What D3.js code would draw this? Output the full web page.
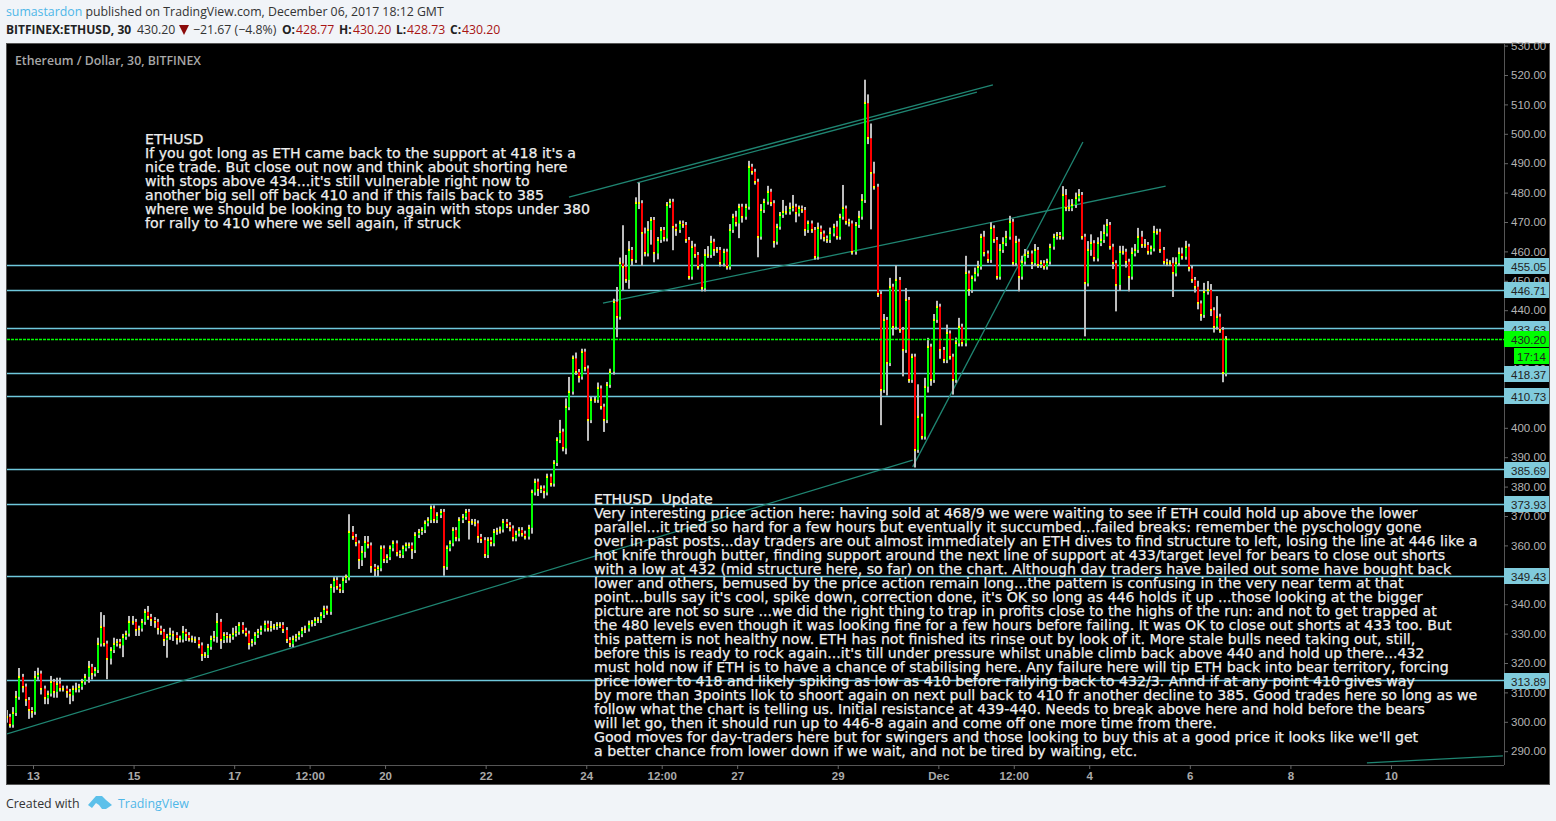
<!DOCTYPE html>
<html><head><meta charset="utf-8">
<script src="https://cdn.jsdelivr.net/npm/d3@7/dist/d3.min.js"></script>
<style>html,body{margin:0;padding:0;background:#f1f4f8;overflow:hidden}svg{display:block}</style>
</head><body><div id="c"></div>
<script>
const firstBarTime = Date.UTC(2017,10,12,11,30);
const barStepMinutes = 90;
const firstOpen = 302;
const closes = [
301.7,299,303,308.5,315.3,312,307.4,304,303.4,315.3,316.4,311.3,308,309.6,313.6,310.2,313,311.3,311.3,310.2,
309,311.3,311,311.9,313.6,315.3,318.7,316.4,317.6,326.6,332.3,326.6,321.5,324.4,326.6,327.2,326,328.9,330,334,
334,331.2,331.7,334,337.4,335.7,334.6,334,331.7,330.6,327.8,328.9,330,329.5,328.3,328,330.6,329.5,328.3,328,
327.8,326,322.7,322.7,325.5,328.3,328.9,334,327.8,329.5,328.9,328.9,330,330.6,332.9,331,330,326.6,327.2,329.5,
330.6,331.7,333.4,331.7,332.3,332.3,332.9,332.9,331.2,327.8,326.4,328.3,328.9,329.8,331.2,331.7,333.4,333.6,334.6,334.6,
336.3,338.5,337.4,345.9,348.2,345.9,344.8,348.2,349.1,364.6,362.9,360.7,355,357.8,361.2,360,352.7,351.6,352.2,359,
355,356,359,360.7,357.3,356.7,359,360,360,358.4,363.5,364.6,365.2,367.5,368.6,372.6,368.6,370.3,371.4,352.7,
359,360.7,365.2,362.4,368.6,369.7,371.4,368,368,367.5,362.9,361.8,356.7,361.8,360.7,364.6,365,365.4,368,366.9,
365.8,362.4,364,365.2,364,363,366,378,381.7,378.8,379.4,378,383.4,381,388,395.8,398.7,393,407,412.3,
423.6,419,417.4,425.9,420.2,402.6,409.5,409.5,413.4,407.2,402.6,414.6,419.1,442.9,437.8,455.9,454.8,450.3,460.5,457.1,
476.4,476.4,466.1,459.3,467.3,470.7,459.3,463.9,467.3,464.4,475.8,476.9,468.4,467.3,469.5,469,463.9,451.4,461.6,458.8,
454.8,447.4,458.8,458.8,463.3,460.5,460.5,455.9,459.9,454.8,467.3,471.8,469.5,475.2,471.8,475.2,488.8,487.1,483.7,465,
474.1,476.9,480.3,476.4,463.3,468.4,472.4,473.5,473.5,474.6,475.2,472.9,474.6,474.1,467.3,469.5,467.3,458.2,467.8,466.1,
464.4,463.9,466.1,468.4,465,471.8,474.6,470.1,469.5,459.9,469,471.8,477.5,510.4,498.5,486.5,482,445.5,412.9,436.7,
422,448,434.4,450.3,433.3,426.5,443.5,416.3,424.2,392.5,403.8,397,414,427.6,416.3,436.7,441.2,426.5,423,432.1,
424.2,416.3,428.7,434.4,428.7,452.5,446.9,450.8,452.5,454.8,465,459.3,457.1,467.9,463.9,451.4,460.5,462.8,465,470.1,
456,463.3,451.4,456.5,458.8,459.3,456,460.5,455.4,456,454.8,456.5,461.6,465,465.6,465,479.2,474.7,474.7,475.8,
478,479.2,465,449.1,460.5,462.8,457.6,462.8,463.9,466.1,469,461.6,456,448.6,459.9,459.9,456.5,451.4,459.3,460.5,
465,462.2,462.2,459.9,461,466.7,466.7,460.5,456.5,456,456,452.5,456,459.3,458.2,461.6,454.2,450.3,448,442.3,
438.4,446.3,446.9,440,434.4,437.8,433.3,418.5,430.2];
const upperWicks = [
2,1,2,2,3,1,1,1,1,2,2,1,1,1,2,1,2,2,1,1,
1,1,2,1,1,1,2,1,1,2,5,4,1,1,2,1,1,1,1,2,
2,1,1,1,1,2,1,1,1,1,1,1,2,1,1,1,2,1,1,1,
1,1,1,1,1,1,2,3,1,1,1,1,2,2,1,1,1,1,1,1,
1,1,1,1,2,1,1,1,1,1,1,1,1,1,1,1,1,1,1,1,
1,1,1,1,1,1,1,1,1,6,2,1,1,2,2,2,1,1,1,1,
1,1,1,1,1,1,1,1,1,1,1,1,1,1,1,1,1,1,1,1,
1,1,1,1,1,1,1,1,1,1,1,1,1,1,1,1,1,1,1,1,
1,1,1,1,1,1,1,1,1,1,1,1,1,1,1,1,4,1,3,5,
1,2,1,1,1,1,1,1,2,1,1,1,1,1,5,2,13,4,3,1,
2,7,1,2,3,1,1,1,1,1,1,1,1,1,1,1,1,1,2,1,
1,1,2,3,2,1,1,1,1,1,2,1,2,1,1,1,2,1,1,1,
2,1,2,1,1,1,1,4,2,2,4,1,1,1,1,1,1,1,2,1,
1,1,2,1,2,1,8,1,1,1,1,2,2,8,3,5,4,1,1,2,
1,3,1,5,1,1,4,1,1,1,11,1,3,3,1,2,2,1,1,3,
1,1,2,3,1,6,1,1,2,2,1,2,1,2,1,1,2,2,2,2,
1,2,1,2,2,1,1,2,1,1,1,1,1,1,1,1,3,2,3,2,
2,2,1,1,3,3,1,2,3,3,2,1,1,1,2,2,1,1,2,2,
3,2,2,1,1,2,1,1,1,1,1,2,2,2,2,2,1,1,1,2,
1,3,3,2,1,7,1,1,1];
const lowerWicks = [
2,1,1,1,1,2,2,3,2,1,1,2,2,2,1,2,2,1,1,2,
3,2,1,1,1,1,2,2,1,1,1,1,7,2,1,1,1,4,1,1,
1,2,2,1,1,1,2,2,2,1,2,6,1,2,2,1,1,2,1,1,
1,1,2,1,1,1,1,2,3,1,2,2,1,1,1,1,1,2,1,1,
1,1,1,1,1,1,1,1,1,1,1,1,1,1,1,1,1,1,1,1,
1,1,1,1,2,1,1,1,1,1,1,1,3,2,2,1,2,2,2,1,
1,1,1,1,1,1,1,1,1,3,1,1,1,1,1,1,1,1,1,3,
1,1,1,1,1,1,1,6,1,1,2,1,1,1,1,1,1,1,1,1,
1,1,1,1,1,1,1,2,1,2,1,2,1,1,1,1,1,1,2,1,
1,1,2,1,1,7,1,1,1,1,4,1,1,1,7,1,8,1,3,2,
1,2,11,1,1,5,3,2,1,1,1,1,8,2,1,1,1,1,1,1,
1,1,1,1,1,2,1,1,1,1,1,1,1,5,2,1,1,1,1,7,
1,1,1,1,2,1,1,1,1,1,1,3,1,1,2,1,1,1,1,2,
1,1,1,1,1,1,1,1,1,1,1,1,1,1,2,19,1,1,12,1,
11,1,3,1,1,9,1,1,1,6,1,1,1,2,2,1,1,3,1,1,
1,5,1,1,1,1,2,1,1,1,1,1,1,1,1,1,1,1,1,1,
1,1,5,1,1,1,2,1,1,1,1,1,1,1,1,1,1,1,1,1,
1,1,1,18,1,2,1,1,1,1,1,1,2,9,2,1,2,5,1,1,
1,1,1,1,1,1,1,1,1,1,1,8,1,1,1,1,1,1,2,2,
2,1,1,2,2,1,1,3,1];
const priceTicks = [530,520,510,500,490,480,470,460,450,440,430,420,410,400,390,380,370,360,350,340,330,320,310,300,290];
const levels = [455.05,446.71,433.63,418.37,410.73,385.69,373.93,349.43,313.89];
const lastPrice = 430.20;
const countdown = "17:14";
const timeTicks = [
 [Date.UTC(2017,10,13),"13"],[Date.UTC(2017,10,15),"15"],[Date.UTC(2017,10,17),"17"],[Date.UTC(2017,10,18,12),"12:00"],
 [Date.UTC(2017,10,20),"20"],[Date.UTC(2017,10,22),"22"],[Date.UTC(2017,10,24),"24"],[Date.UTC(2017,10,25,12),"12:00"],
 [Date.UTC(2017,10,27),"27"],[Date.UTC(2017,10,29),"29"],[Date.UTC(2017,11,1),"Dec"],[Date.UTC(2017,11,2,12),"12:00"],
 [Date.UTC(2017,11,4),"4"],[Date.UTC(2017,11,6),"6"],[Date.UTC(2017,11,8),"8"],[Date.UTC(2017,11,10),"10"]];
// trend lines: [days after 13 Nov, price, days after 13 Nov, price]
const trendLines = [
 [-0.517,295.9,17.49,389.0],[10.656,478.5,19.085,516.6],[12.008,483.3,18.767,514.2],
 [11.332,442.4,22.519,482.2],[17.49,386.7,20.875,497.2],[26.521,286,29.225,288.4]];
const noteOne = ["ETHUSD",
"If you got long as ETH came back to the support at 418 it's a",
"nice trade. But close out now and think about shorting here",
"with stops above 434...it's still vulnerable right now to",
"another big sell off back 410 and if this fails back to 385",
"where we should be looking to buy again with stops under 380",
"for rally to 410 where we sell again, if struck"];
const noteTwo = ["ETHUSD  Update",
"Very interesting price action here: having sold at 468/9 we were waiting to see if ETH could hold up above the lower",
"parallel...it tried so hard for a few hours but eventually it succumbed...failed breaks: remember the pyschology gone",
"over in past posts...day traders are out almost immediately an ETH dives to find structure to left, losing the line at 446 like a",
"hot knife through butter, finding support around the next line of support at 433/target level for bears to close out shorts",
"with a low at 432 (mid structure here, so far) on the chart. Although day traders have bailed out some have bought back",
"lower and others, bemused by the price action remain long...the pattern is confusing in the very near term at that",
"point...bulls say it's cool, spike down, correction done, it's OK so long as 446 holds it up ...those looking at the bigger",
"picture are not so sure ...we did the right thing to trap in profits close to the highs of the run: and not to get trapped at",
"the 480 levels even though it was looking fine for a few hours before failing. It was OK to close out shorts at 433 too. But",
"this pattern is not healthy now. ETH has not finished its rinse out by look of it. More stale bulls need taking out, still,",
"before this is ready to rock again...it's till under pressure whilst unable climb back above 440 and hold up there...432",
"must hold now if ETH is to have a chance of stabilising here. Any failure here will tip ETH back into bear territory, forcing",
"price lower to 418 and likely spiking as low as 410 before rallying back to 432/3. Annd if at any point 410 gives way",
"by more than 3points llok to shoort again on next pull back to 410 fr another decline to 385. Good trades here so long as we",
"follow what the chart is telling us. Initial resistance at 439-440. Needs to break above here and hold before the bears",
"will let go, then it should run up to 446-8 again and come off one more time from there.",
"Good moves for day-traders here but for swingers and those looking to buy this at a good price it looks like we'll get",
"a better chance from lower down if we wait, and not be tired by waiting, etc."];

const W=1556,H=821;
const svg=d3.select("#c").append("svg").attr("width",W).attr("height",H);
const sans="'Open Sans','Noto Sans',sans-serif", arial="'Liberation Sans',Arial,sans-serif", note="'DejaVu Sans',Verdana,sans-serif";
svg.append("rect").attr("width",W).attr("height",H).attr("fill","#f1f4f8");
svg.append("rect").attr("x",6.5).attr("y",43.5).attr("width",1543).attr("height",741).attr("fill","#000").attr("stroke","#555");

const x=d3.scaleUtc().domain([Date.UTC(2017,10,13),Date.UTC(2017,11,10)]).range([33,1391]);
const y=d3.scaleLinear().domain([520,290]).range([75,751.2]);
const day=86400000, xDay=d=>x(Date.UTC(2017,10,13)+d*day);

// axes
const gy=svg.append("g").attr("transform","translate(1504,0)").call(d3.axisRight(y).tickValues(priceTicks).tickFormat(d3.format(".2f")).tickSize(4).tickPadding(3));
const gx=svg.append("g").attr("transform","translate(0,765)").call(d3.axisBottom(x).tickValues(timeTicks.map(d=>d[0])).tickFormat((d,i)=>timeTicks[i][1]).tickSize(4).tickPadding(3));
gy.select(".domain").attr("d","M0.5,44V765").attr("stroke","#555");
gx.select(".domain").attr("d","M7,0.5H1504").attr("stroke","#555");
[gy,gx].forEach(g=>{g.selectAll(".tick line").attr("stroke","#666");
 g.selectAll("text").attr("fill","#b4b4b4").attr("font-family",arial).attr("font-size",11.5).attr("font-weight",400);});
gx.selectAll("text").attr("font-weight",700).attr("font-size",11.5).attr("fill","#aaa");
const clip=svg.append("clipPath").attr("id","pane");clip.append("rect").attr("x",7).attr("y",44).attr("width",1497).attr("height",721);

const pane=svg.append("g").attr("clip-path","url(#pane)");
// levels
const ly0=v=>Math.floor(y(v))+.5;
pane.selectAll("line.lv").data(levels).join("line").attr("class","lv").attr("x1",7).attr("x2",1504)
 .attr("y1",ly0).attr("y2",ly0).attr("stroke","#6fc8dc").attr("stroke-width",1.3);
// trend lines
pane.selectAll("line.tr").data(trendLines).join("line").attr("class","tr")
 .attr("x1",d=>xDay(d[0])).attr("y1",d=>y(d[1])).attr("x2",d=>xDay(d[2])).attr("y2",d=>y(d[3]))
 .attr("stroke","#1f8572").attr("stroke-width",1.3);
// bars
const bars=closes.map((c,i)=>{const o=i?closes[i-1]:firstOpen;return{t:firstBarTime+i*barStepMinutes*60000,o,c,
 h:Math.max(o,c)+upperWicks[i],l:Math.min(o,c)-lowerWicks[i]};});
const snap=t=>Math.round(x(t));
const gb=pane.append("g");
gb.selectAll("rect.w").data(bars).join("rect").attr("class","w").attr("x",d=>snap(d.t)-1).attr("width",2)
 .attr("y",d=>y(d.h)).attr("height",d=>y(d.l)-y(d.h)).attr("fill","#bdbdbd");
gb.selectAll("rect.b").data(bars).join("rect").attr("class","b").attr("x",d=>snap(d.t)-1).attr("width",2)
 .attr("y",d=>y(Math.max(d.o,d.c))).attr("height",d=>Math.max(1,Math.abs(y(d.o)-y(d.c)))).attr("fill",d=>d.c>=d.o?"#00ff00":"#ff0000");
gb.selectAll("rect.y").data(bars).join("rect").attr("class","y").attr("x",d=>snap(d.t)-1).attr("width",2).attr("height",2)
 .attr("y",d=>Math.round(y(d.c))-1).attr("fill","#ffff00");
// last price
const ly=Math.floor(y(lastPrice))+.5;
pane.append("line").attr("x1",7).attr("x2",1504).attr("y1",ly).attr("y2",ly).attr("stroke","#00ff00").attr("stroke-width",1.6).attr("stroke-dasharray","3,1");

// price labels
const labels=svg.append("g");
function tag(v,fill,txt,x0=1504,w=45){const c=y(v);
 labels.append("rect").attr("x",x0).attr("y",Math.round(c)-8).attr("width",w).attr("height",16).attr("fill",fill);
 labels.append("text").attr("x",1511).attr("y",Math.round(c)+4.5).attr("font-family",arial).attr("font-size",11.5).attr("fill","#222").text(txt);}
levels.forEach(v=>tag(v,"#80cbdc",d3.format(".2f")(v)));
tag(lastPrice,"#00ff00",d3.format(".2f")(lastPrice));
labels.append("rect").attr("x",1514).attr("y",348).attr("width",35).attr("height",16).attr("fill","#00ff00");
labels.append("text").attr("x",1517).attr("y",360.5).attr("font-family",arial).attr("font-size",11.5).attr("fill","#222").text(countdown);

// notes
function drawNote(lines,x0,y0){svg.append("g").selectAll("text").data(lines).join("text").attr("x",x0).attr("y",(d,i)=>y0+i*14)
 .attr("xml:space","preserve").style("white-space","pre").attr("font-family",note).attr("font-size",14.15).attr("fill","#eee").attr("stroke","#eee").attr("stroke-width",.25).text(d=>d);}
drawNote(noteOne,145,144);
drawNote(noteTwo,594,504);

// header
const hdr=svg.append("g").attr("font-family",sans).attr("font-size",12.3);
const t1=hdr.append("text").attr("x",6).attr("y",16).attr("fill","#333");
t1.append("tspan").attr("fill","#4fb7e8").text("sumastardon");
t1.append("tspan").text(" published on TradingView.com, December 06, 2017 18:12 GMT");
const red="#a81414";
const headerPieces=[["BITFINEX:ETHUSD, 30",6,"#222",700,12],["430.20",137,"#333",400,12.3],["−21.67 (−4.8%)",193,"#333",400,12.3],
 ["O:",282,"#222",700,12],["428.77",296,red,400,12.3],["H:",339,"#222",700,12],["430.20",353,red,400,12.3],
 ["L:",396,"#222",700,12],["428.73",407,red,400,12.3],["C:",450,"#222",700,12],["430.20",462,red,400,12.3]];
hdr.selectAll("text.p").data(headerPieces).join("text").attr("class","p").attr("x",d=>d[1]).attr("y",34).attr("fill",d=>d[2]).attr("font-weight",d=>d[3]).attr("font-size",d=>d[4]).text(d=>d[0]);
hdr.append("path").attr("d","M179,25H189L184,35Z").attr("fill","#8b0a0a");
svg.append("text").attr("x",15).attr("y",65).attr("font-family",sans).attr("font-size",12.3).attr("font-weight",600).attr("fill","#a8a8a8").text("Ethereum / Dollar, 30, BITFINEX");

// footer
svg.append("text").attr("x",6).attr("y",808).attr("font-family",sans).attr("font-size",12.4).attr("fill","#333").text("Created with");
svg.append("path").attr("d","M88,805L96,796H102L106,800L112,805L106,809H102L99,805L96,803L92,808Z").attr("fill","#5cc0ea");
svg.append("text").attr("x",118).attr("y",808).attr("font-family",sans).attr("font-size",12.4).attr("fill","#4fb7e8").text("TradingView");
</script></body></html>
